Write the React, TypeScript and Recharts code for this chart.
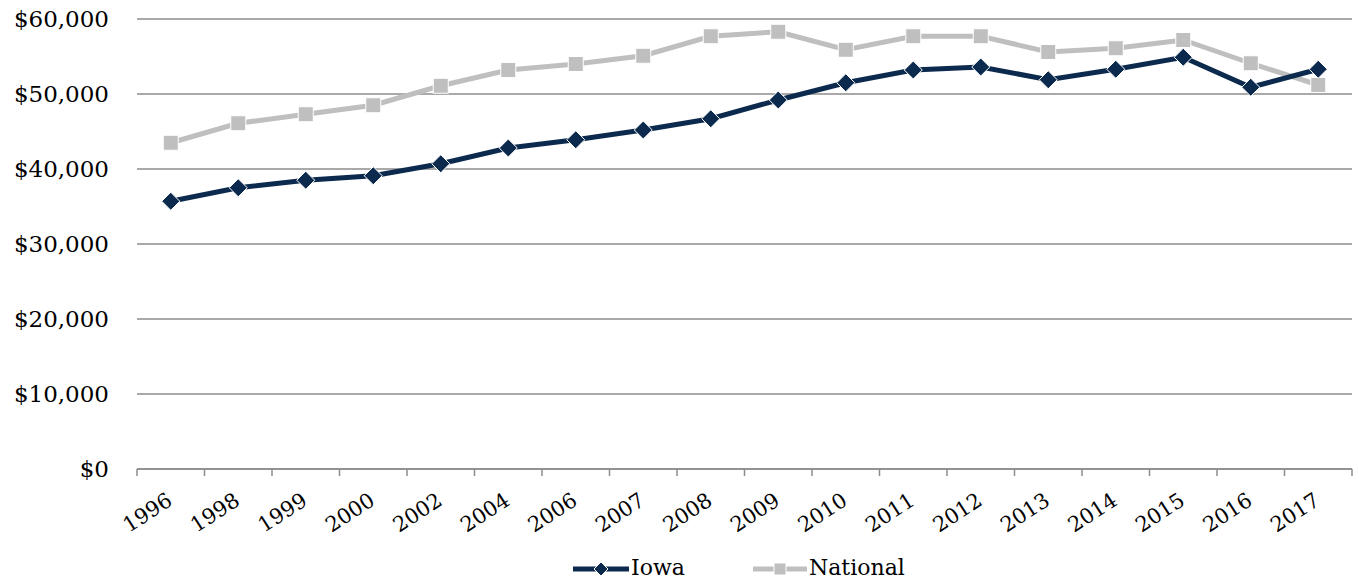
import { CartesianGrid, Line, LineChart, XAxis, YAxis } from "recharts";

const YEARS = ["1996", "1998", "1999", "2000", "2002", "2004", "2006", "2007", "2008", "2009", "2010", "2011", "2012", "2013", "2014", "2015", "2016", "2017"];
const IOWA = [35700, 37500, 38500, 39100, 40700, 42800, 43900, 45200, 46700, 49200, 51500, 53200, 53600, 51900, 53300, 54900, 50900, 53300];
const NATIONAL = [43500, 46100, 47300, 48500, 51100, 53200, 54000, 55100, 57700, 58300, 55900, 57700, 57700, 55600, 56100, 57200, 54100, 51200];
const Y_TICKS = [0, 10000, 20000, 30000, 40000, 50000, 60000];

const NAVY = "#0c2a4d";
const GREY = "#bfbfbf";
const AXIS = "#8c8c8c";
const FONT = "'DejaVu Serif', serif";
const HALF_STEP = 33.75;

const data = YEARS.map((year, i) => ({ year, iowa: IOWA[i], national: NATIONAL[i] }));

function Diamond({ cx, cy }: { cx?: number; cy?: number }) {
  if (cx == null || cy == null) return null;
  const r = 9;
  return (
    <path
      d={`M${cx},${cy - r}L${cx + r},${cy}L${cx},${cy + r}L${cx - r},${cy}Z`}
      fill={NAVY}
      stroke="#fff"
      strokeWidth={1}
    />
  );
}

function Square({ cx, cy }: { cx?: number; cy?: number }) {
  if (cx == null || cy == null) return null;
  const h = 7.5;
  return <rect x={cx - h} y={cy - h} width={h * 2} height={h * 2} fill={GREY} stroke="#fff" strokeWidth={1} />;
}

function YearTick({ x, y, payload, index }: { x?: number; y?: number; payload?: { value: string }; index?: number }) {
  const tx = x! + 3;
  const ty = y! + 27;
  const last = index === YEARS.length - 1;
  return (
    <g>
      <line x1={x! - HALF_STEP} y1={y! - 8} x2={x! - HALF_STEP} y2={y! - 1} stroke={AXIS} strokeWidth={1.5} />
      {last && <line x1={x! + HALF_STEP} y1={y! - 8} x2={x! + HALF_STEP} y2={y! - 1} stroke={AXIS} strokeWidth={1.5} />}
      <text x={tx} y={ty} textAnchor="end" fontFamily={FONT} fontSize={21} fill="#000" transform={`rotate(-33, ${tx}, ${ty})`}>
        {payload?.value}
      </text>
    </g>
  );
}

function Legend() {
  return (
    <div style={{ position: "absolute", left: 573, top: 553, display: "flex", fontFamily: FONT, fontSize: 22 }}>
      <svg width={56} height={30}>
        <line x1={0} y1={16} x2={56} y2={16} stroke={NAVY} strokeWidth={5} />
        <path d="M28,9L35,16L28,23L21,16Z" fill={NAVY} stroke="#fff" strokeWidth={1} />
      </svg>
      <span style={{ marginLeft: 2, width: 122, lineHeight: "30px" }}>Iowa</span>
      <svg width={54} height={30}>
        <line x1={0} y1={16} x2={54} y2={16} stroke={GREY} strokeWidth={5} />
        <rect x={21} y={10} width={12} height={12} fill={GREY} stroke="#fff" strokeWidth={1} />
      </svg>
      <span style={{ marginLeft: 2, lineHeight: "30px" }}>National</span>
    </div>
  );
}

export default function App() {
  return (
    <div style={{ position: "absolute", left: 0, top: 0, width: 1359, height: 582, background: "#fff" }}>
      <LineChart width={1359} height={582} data={data} margin={{ top: 19, right: 7, left: 2, bottom: 43 }}>
        <CartesianGrid vertical={false} stroke={AXIS} strokeWidth={1.5} />
        <XAxis
          dataKey="year"
          height={70}
          interval={0}
          padding={{ left: HALF_STEP, right: HALF_STEP }}
          tick={YearTick}
          axisLine={{ stroke: AXIS, strokeWidth: 1.5 }}
          tickLine={false}
        />
        <YAxis
          width={135}
          domain={[0, 60000]}
          ticks={Y_TICKS}
          axisLine={false}
          tickLine={false}
          tickMargin={22}
          tick={{ fontFamily: FONT, fontSize: 23, fill: "#000" }}
          tickFormatter={(v) => `$${Number(v).toLocaleString("en-US")}`}
        />
        <Line dataKey="national" stroke={GREY} strokeWidth={5} dot={<Square />} isAnimationActive={false} />
        <Line dataKey="iowa" stroke={NAVY} strokeWidth={5} dot={<Diamond />} isAnimationActive={false} />
      </LineChart>
      <Legend />
    </div>
  );
}
